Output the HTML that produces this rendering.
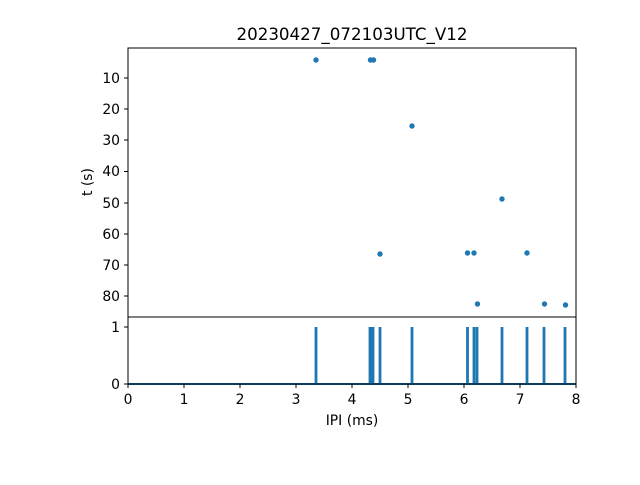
<!DOCTYPE html>
<html><head><style>body{margin:0;background:#fff}</style></head><body>
<svg width="640" height="480" xmlns="http://www.w3.org/2000/svg" font-family="DejaVu Sans, Liberation Sans, sans-serif">
<rect width="640" height="480" fill="#fff"/>
<text x="352" y="40" font-size="16.7" text-anchor="middle">20230427_072103UTC_V12</text>
<g fill="#1f77b4">
<circle cx="316" cy="60" r="2.7"/><circle cx="370.5" cy="60" r="2.7"/><circle cx="373.5" cy="60" r="2.7"/>
<circle cx="412" cy="126" r="2.7"/><circle cx="502" cy="199" r="2.7"/><circle cx="380" cy="254" r="2.7"/>
<circle cx="467.5" cy="253" r="2.7"/><circle cx="474" cy="253" r="2.7"/><circle cx="527" cy="253" r="2.7"/>
<circle cx="477.5" cy="304" r="2.7"/><circle cx="544.5" cy="304" r="2.7"/><circle cx="565.5" cy="305" r="2.7"/>
</g>
<g stroke="#1f77b4" stroke-width="2.8">
<line x1="128" y1="384" x2="576" y2="384" stroke-width="2"/>
<path d="M316 384V327M370 384V327M371.5 384V327M373 384V327M380 384V327M412 384V327M467.5 384V327M474 384V327M477 384V327M502 384V327M527 384V327M544 384V327M565 384V327"/>
</g>
<g fill="none" stroke="#000" stroke-width="1">
<rect x="128" y="48" width="448" height="269"/>
<rect x="128" y="317" width="448" height="67"/>
<path d="M128 78h-4M128 109h-4M128 140h-4M128 171.5h-4M128 203h-4M128 234h-4M128 265h-4M128 296h-4M128 327h-4M128 384h-4"/>
<path d="M128 384v4M184 384v4M240 384v4M296 384v4M352 384v4M408 384v4M464 384v4M520 384v4M576 384v4"/>
</g>
<g font-size="13.9" text-anchor="end">
<text x="120" y="83">10</text><text x="120" y="114">20</text><text x="120" y="145">30</text><text x="120" y="176">40</text>
<text x="120" y="208">50</text><text x="120" y="239">60</text><text x="120" y="270">70</text><text x="120" y="301">80</text>
<text x="120" y="332">1</text><text x="120" y="389">0</text>
</g>
<g font-size="13.9" text-anchor="middle">
<text x="128" y="404">0</text><text x="184" y="404">1</text><text x="240" y="404">2</text><text x="296" y="404">3</text>
<text x="352" y="404">4</text><text x="408" y="404">5</text><text x="464" y="404">6</text><text x="520" y="404">7</text><text x="576" y="404">8</text>
<text x="352" y="425">IPI (ms)</text>
<text transform="translate(92,182) rotate(-90)">t (s)</text>
</g>
</svg>
</body></html>
